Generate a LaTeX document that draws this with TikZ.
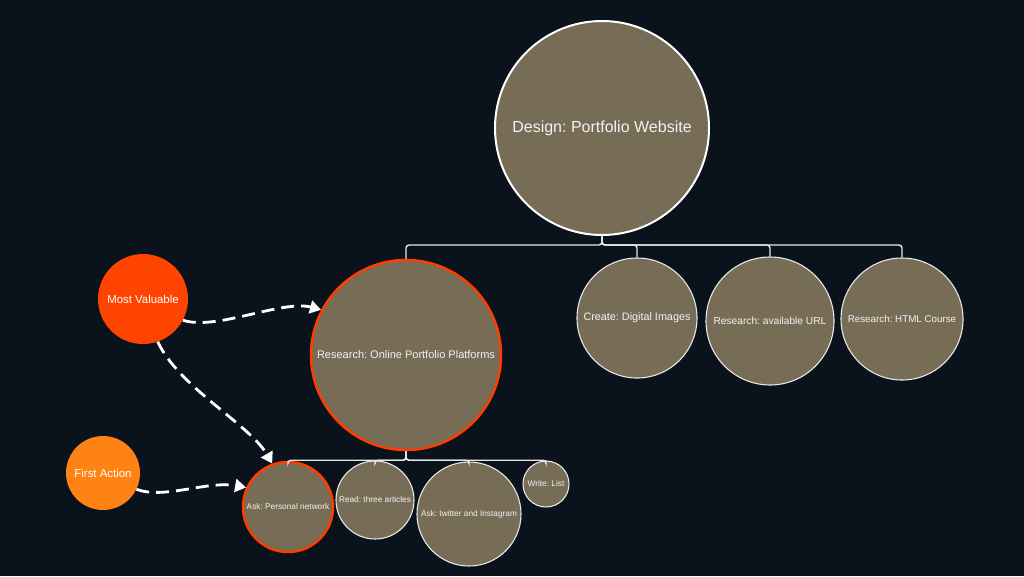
\documentclass[tikz,border=0pt]{standalone}
\usepackage{fontspec}
\setmainfont{Liberation Sans}
\usetikzlibrary{arrows.meta}
\definecolor{bg}{HTML}{0A121C}
\definecolor{bubc}{HTML}{776D56}
\definecolor{ringc}{HTML}{E6E6E6}
\definecolor{hotred}{HTML}{FF3D00}
\definecolor{mvred}{HTML}{FF4300}
\definecolor{faorange}{HTML}{FF8214}
\definecolor{txtc}{HTML}{F2F2F2}
\newcommand{\fsz}[1]{\fontsize{#1}{#1}\selectfont\frenchspacing}
\begin{document}
\begin{tikzpicture}[x=1pt,y=1pt,
  bub/.style={circle, draw=ringc, fill=bubc, inner sep=0pt, text=txtc, line width=1.1pt},
  hot/.style={draw=hotred, line width=2.5pt},
  tag/.style={circle, inner sep=0pt, text=white},
  conn/.style={draw=ringc, line width=1.4pt, rounded corners=3pt},
  darr/.style={draw=white, line width=2.8pt, dash pattern=on 13pt off 7pt,
    -{Triangle[width=13pt,length=11pt]}}]
\fill[bg] (0,0) rectangle (1024,-576);
\useasboundingbox (0,0) rectangle (1024,-576);

% top
\node[bub, line width=2pt, draw=white, minimum size=214pt, font=\fsz{16}] (top) at (602,-128) {Design: Portfolio Website};

% level 1
\node[bub, hot, minimum size=190pt, font=\fsz{11}] (ro) at (406,-355) {Research: Online Portfolio Platforms};
\node[bub, minimum size=120pt, font=\fsz{10.8}] (c1) at (637,-318) {Create: Digital Images};
\node[bub, minimum size=128pt, font=\fsz{10.2}] (c2) at (770,-321) {Research: available URL};
\node[bub, minimum size=122pt, font=\fsz{9.8}] (c3) at (902,-319) {Research: HTML Course};

% level 2
\node[bub, hot, minimum size=90pt, font=\fsz{8.3}] (a1) at (288,-507) {Ask: Personal network};
\node[bub, minimum size=78pt, font=\fsz{8.3}] (a2) at (375,-500) {Read: three articles};
\node[bub, minimum size=104pt, font=\fsz{8.3}] (a3) at (469,-514) {Ask: twitter and Instagram};
\node[bub, minimum size=46pt, font=\fsz{8.3}] (a4) at (546,-484) {Write: List};

% tags
\node[tag, fill=mvred, minimum size=90pt, font=\fsz{11.4}] (mv) at (143,-299) {Most Valuable};
\node[tag, fill=faorange, minimum size=74pt, font=\fsz{11.4}] (fa) at (103,-473) {First Action};

% tree connectors
\foreach \c in {ro,c1,c2,c3}
  \draw[conn] (top.south) -- ++(0,-9) -| (\c.north);
\foreach \c in {a1,a2,a3,a4}
  \draw[conn] (ro.south) -- ++(0,-9) -| (\c.north);

% dashed arrows
\draw[darr] (mv.-28) .. controls +(-18:35) and +(165:40) .. (ro.152);
\draw[darr] (mv.-71) .. controls +(-65:50) and +(120:45) .. (a1.110);
\draw[darr] (fa.-26) .. controls +(-20:30) and +(170:40) .. (a1.155);
\end{tikzpicture}
\end{document}
